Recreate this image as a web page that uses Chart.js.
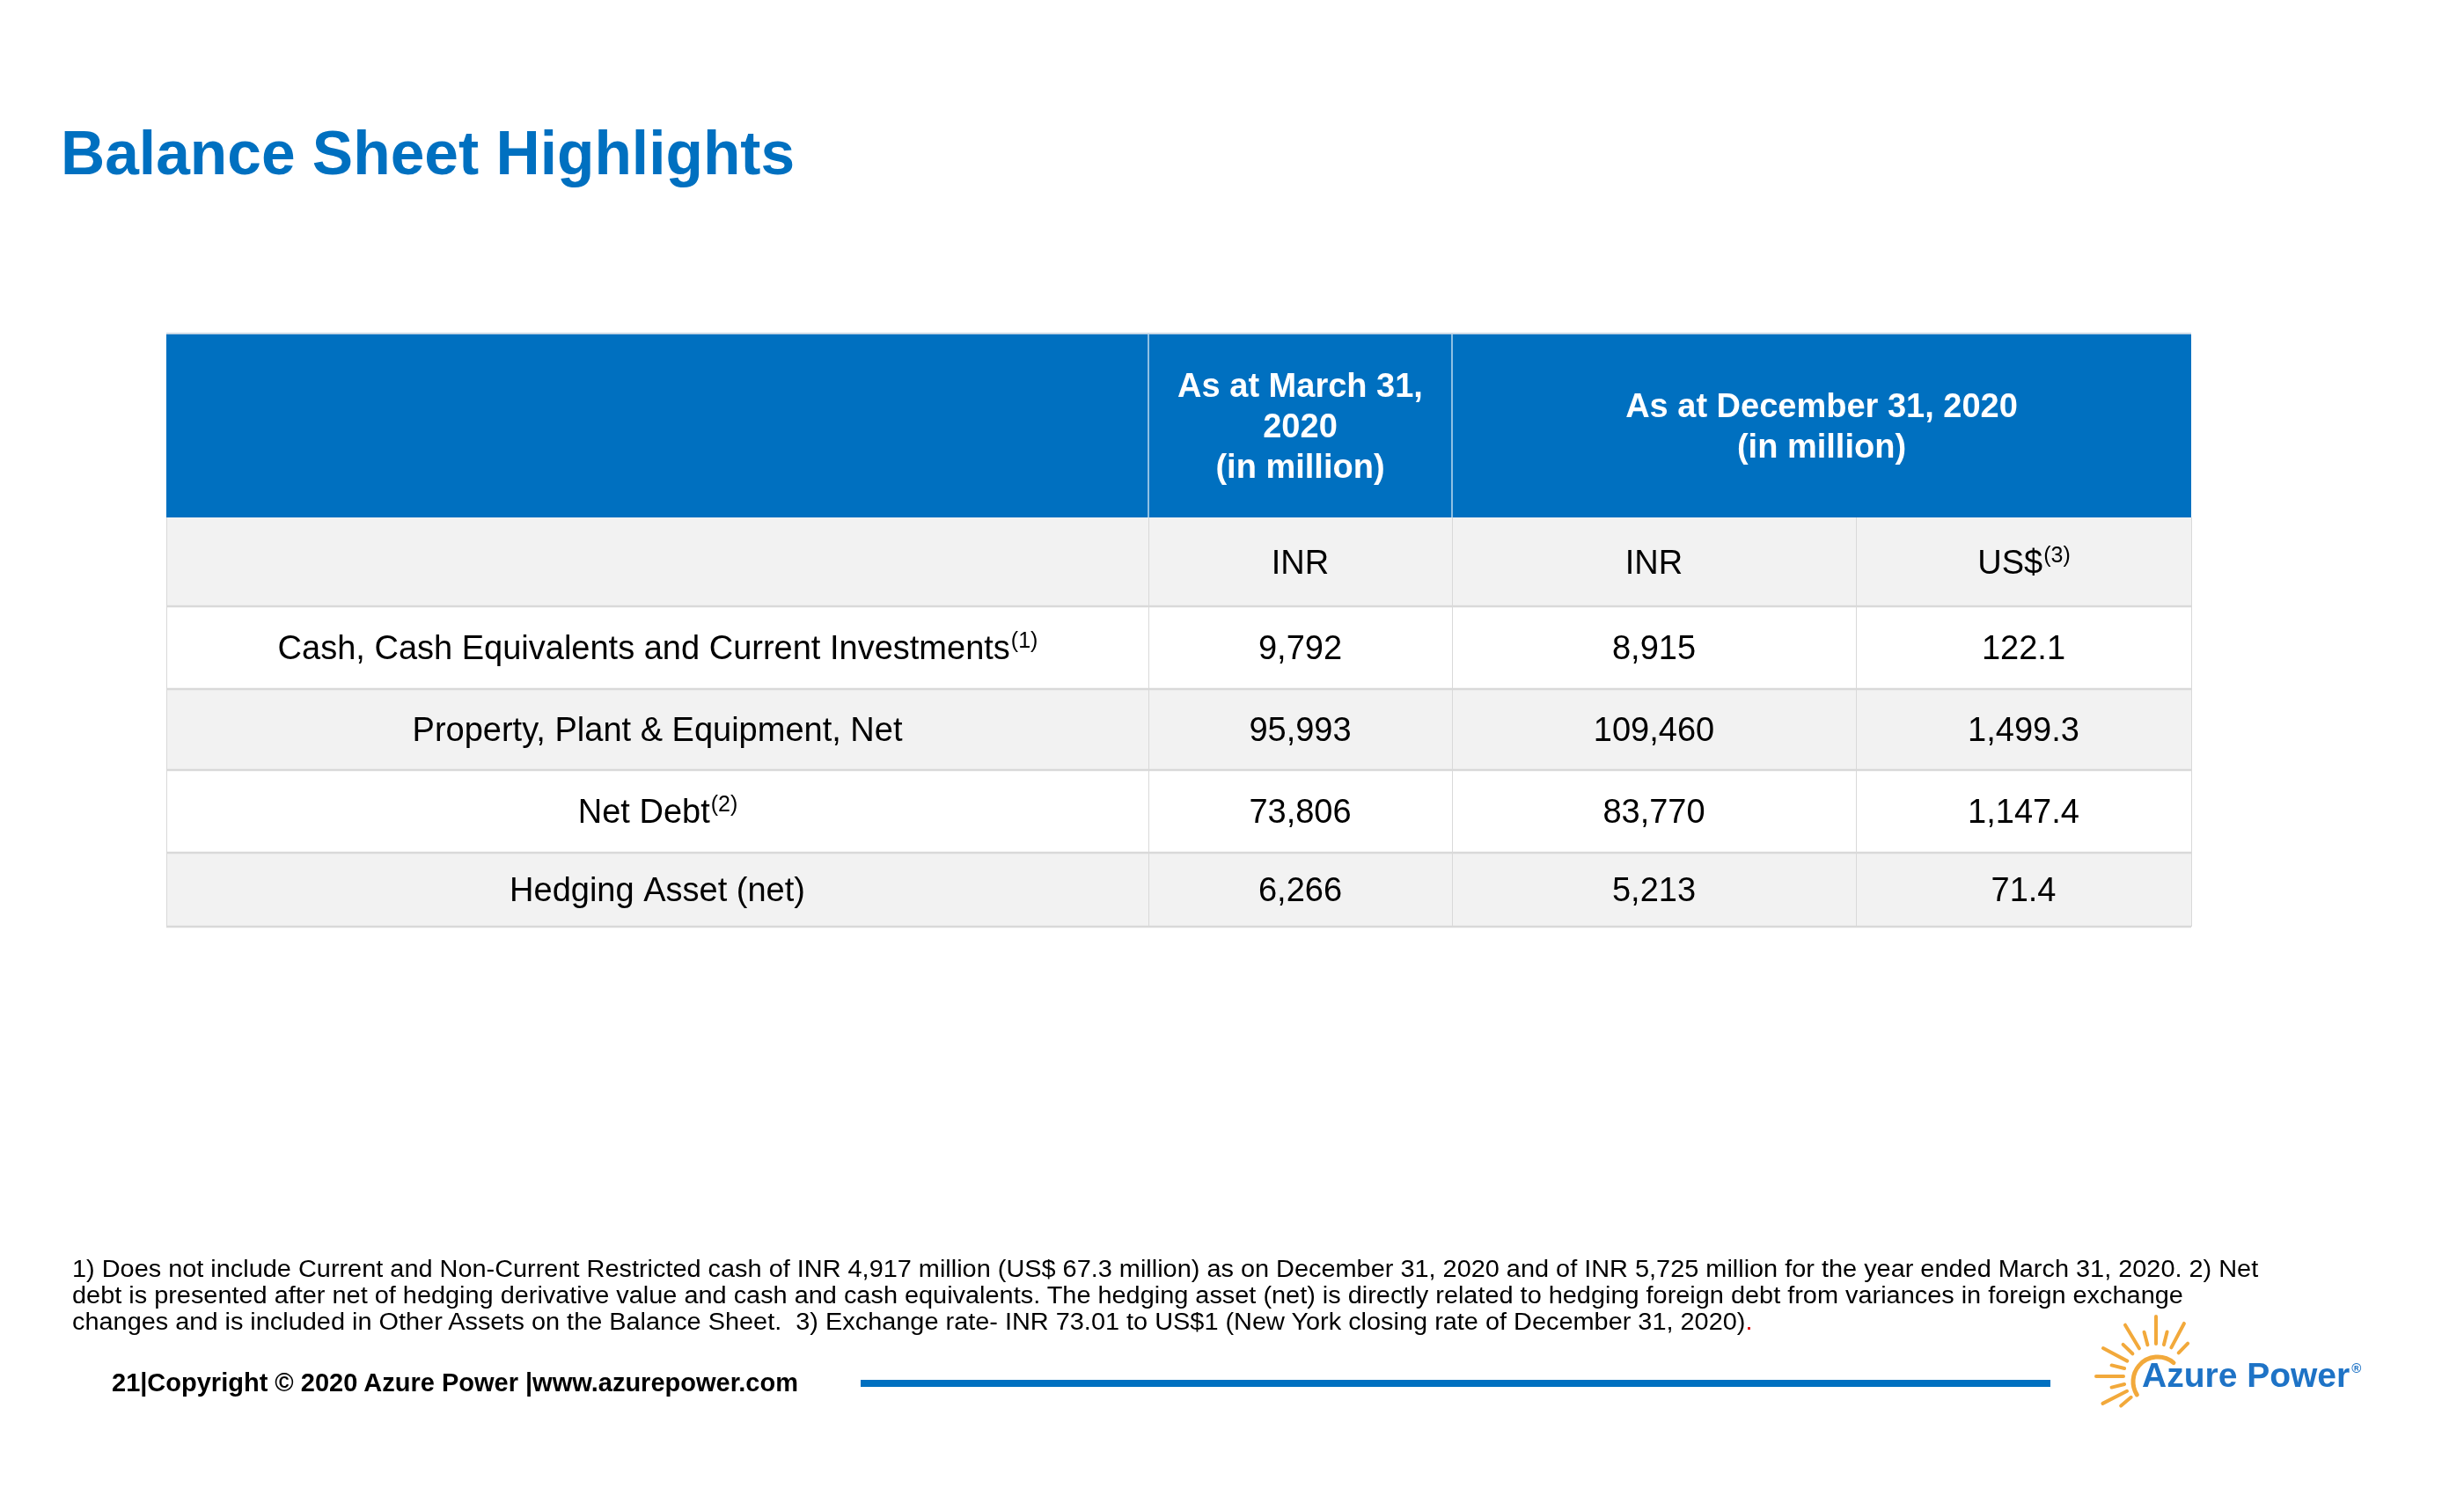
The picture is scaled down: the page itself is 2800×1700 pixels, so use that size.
<!DOCTYPE html>
<html>
<head>
<meta charset="utf-8">
<title>Balance Sheet Highlights</title>
<script src="https://cdn.jsdelivr.net/npm/chart.js@4.4.1/dist/chart.umd.min.js"></script>
<style>
    html, body { margin: 0; padding: 0; background: #ffffff; }
    body { width: 2800px; height: 1700px; position: relative; overflow: hidden; font-family: "Liberation Sans", Arial, sans-serif; color: #000; }
    #sheet { position: absolute; left: 0; top: 0; }
    .title { position: absolute; left: 69px; top: 134px; font-size: 69.5px; line-height: 80px; font-weight: bold; color: #0070C0; white-space: nowrap; }
    .notes { position: absolute; left: 82px; top: 1427px; font-size: 27px; line-height: 30px; white-space: nowrap; transform: scaleX(1.07); transform-origin: left top; }
    .notes .dot { color: #e00000; }
    .footer { position: absolute; left: 127px; top: 1554px; font-size: 29px; line-height: 34px; font-weight: bold; white-space: nowrap; }
    .rule { position: absolute; left: 978px; top: 1568px; width: 1352px; height: 8px; background: #0070C0; }
    .brand { position: absolute; left: 2434px; top: 1541px; font-size: 39px; line-height: 44px; font-weight: bold; color: #1E73C6; white-space: nowrap; }
    .brand sup { font-size: 15px; position: relative; top: -8px; margin-left: 2px; vertical-align: top; }
</style>
</head>
<body>
<canvas id="sheet" width="2800" height="1700" style="width:2800px;height:1700px"></canvas>
<div class="title">Balance Sheet Highlights</div>
<div class="notes">
1) Does not include Current and Non-Current Restricted cash of INR 4,917 million (US$ 67.3 million) as on December 31, 2020 and of INR 5,725 million for the year ended March 31, 2020. 2) Net<br>
debt is presented after net of hedging derivative value and cash and cash equivalents. The hedging asset (net) is directly related to hedging foreign debt from variances in foreign exchange<br>
changes and is included in Other Assets on the Balance Sheet.&nbsp; 3) Exchange rate- INR 73.01 to US$1 (New York closing rate of December 31, 2020)<span class="dot">.</span>
</div>
<div class="footer">21|Copyright © 2020 Azure Power |www.azurepower.com</div>
<div class="rule"></div>
<div class="brand">Azure Power<sup>®</sup></div>
<script>
// Balance sheet figures, in million
const rowLabels = ['Cash, Cash Equivalents and Current Investments', 'Property, Plant & Equipment, Net', 'Net Debt', 'Hedging Asset (net)'];
const rowNotes = ['(1)', '', '(2)', ''];
const periodHeaders = [['As at March 31,', '2020', '(in million)'], ['As at December 31, 2020', '(in million)']];
const currencyHeaders = ['INR', 'INR', 'US$'];
const currencyNotes = ['', '', '(3)'];
const inrMar2020 = [9792, 95993, 73806, 6266];
const inrDec2020 = [8915, 109460, 83770, 5213];
const usdDec2020 = [122.1, 1499.3, 1147.4, 71.4];

// table grid in scale units (1 unit = 1px once laid out)
const COL_W = [1116, 345, 459, 381];
const ROW_H = [208, 101, 94, 92, 94, 84];
const colEdges = COL_W.reduce((a, w) => a.concat(a[a.length - 1] + w), [0]);
const rowEdges = ROW_H.reduce((a, h) => a.concat(a[a.length - 1] + h), [0]);
const tableW = colEdges[colEdges.length - 1];
const tableH = rowEdges[rowEdges.length - 1];
const colMid = i => (colEdges[i] + colEdges[i + 1]) / 2;
const rowMid = i => (rowEdges[i] + rowEdges[i + 1]) / 2;

const COLORS = {
    blue: '#0070C0',
    band: '#F2F2F2',
    white: '#FFFFFF',
    grid: '#D9D9D9',
    headGrid: 'rgba(255, 255, 255, 0.75)',
    text: '#000000',
    sun: '#F2A93B'
};
const FONT = '"Liberation Sans", Arial, sans-serif';
const BODY_PX = 38;
const SUP_PX = 25;

const fmtInr = v => v.toLocaleString('en-US');
const fmtUsd = v => v.toLocaleString('en-US', { minimumFractionDigits: 1, maximumFractionDigits: 1 });

function cellPoints(col) {
    return rowLabels.map((_, r) => ({ x: colMid(col), y: rowMid(r + 2) }));
}

// text + optional superscript, centred on cx
function drawSup(ctx, text, sup, cx, baseline) {
    ctx.font = `${BODY_PX}px ${FONT}`;
    const w1 = ctx.measureText(text).width;
    ctx.font = `${SUP_PX}px ${FONT}`;
    const w2 = sup ? ctx.measureText(sup).width : 0;
    const start = cx - (w1 + w2) / 2;
    ctx.textAlign = 'left';
    ctx.font = `${BODY_PX}px ${FONT}`;
    ctx.fillText(text, start, baseline);
    if (sup) {
        ctx.font = `${SUP_PX}px ${FONT}`;
        ctx.fillText(sup, start + w1 + 1, baseline - 13);
    }
}

const tablePlugin = {
    id: 'tablePlugin',
    beforeDatasetsDraw(chart) {
        const { ctx, scales: { x, y } } = chart;
        const px = v => x.getPixelForValue(v);
        const py = v => y.getPixelForValue(v);
        ctx.save();
        // fills
        const fills = [COLORS.blue, COLORS.band, COLORS.white, COLORS.band, COLORS.white, COLORS.band];
        fills.forEach((c, r) => {
            ctx.fillStyle = c;
            ctx.fillRect(px(0), py(rowEdges[r]), px(tableW) - px(0), py(rowEdges[r + 1]) - py(rowEdges[r]));
        });
        // header verticals (December header spans two columns)
        ctx.strokeStyle = COLORS.headGrid;
        ctx.lineWidth = 1.5;
        [1, 2].forEach(i => {
            ctx.beginPath();
            ctx.moveTo(px(colEdges[i]), py(0));
            ctx.lineTo(px(colEdges[i]), py(rowEdges[1]));
            ctx.stroke();
        });
        // body verticals
        ctx.strokeStyle = COLORS.grid;
        ctx.lineWidth = 1;
        colEdges.forEach(e => {
            const xx = Math.round(px(e)) + 0.5;
            ctx.beginPath();
            ctx.moveTo(xx, py(rowEdges[1]));
            ctx.lineTo(xx, py(tableH));
            ctx.stroke();
        });
        // horizontal rules
        ctx.lineWidth = 2.5;
        rowEdges.slice(2).forEach(e => {
            ctx.beginPath();
            ctx.moveTo(px(0), py(e));
            ctx.lineTo(px(tableW), py(e));
            ctx.stroke();
        });
        ctx.strokeStyle = '#C9D8E6';
        ctx.lineWidth = 2;
        ctx.beginPath();
        ctx.moveTo(px(0), py(0) - 1);
        ctx.lineTo(px(tableW), py(0) - 1);
        ctx.stroke();
        ctx.restore();
    },
    afterDatasetsDraw(chart) {
        const { ctx, scales: { x, y } } = chart;
        const px = v => x.getPixelForValue(v);
        const py = v => y.getPixelForValue(v);
        ctx.save();
        ctx.textBaseline = 'alphabetic';

        // period headers
        ctx.fillStyle = COLORS.white;
        ctx.textAlign = 'center';
        ctx.font = `bold ${BODY_PX}px ${FONT}`;
        const headCx = [px(colMid(1)), (px(colEdges[2]) + px(colEdges[4])) / 2];
        periodHeaders.forEach((lines, i) => {
            const cy = py(rowMid(0));
            lines.forEach((t, k) => {
                ctx.fillText(t, headCx[i], cy + (k - (lines.length - 1) / 2) * 46 + 13);
            });
        });

        // currency row
        ctx.fillStyle = COLORS.text;
        currencyHeaders.forEach((t, i) => {
            drawSup(ctx, t, currencyNotes[i], px(colMid(i + 1)), py(rowMid(1)) + 13);
        });

        // body cells, placed at the dataset points
        chart.data.datasets.forEach((ds, di) => {
            const meta = chart.getDatasetMeta(di);
            meta.data.forEach((pt, r) => {
                drawSup(ctx, ds.cellText[r], ds.cellNotes ? ds.cellNotes[r] : '', pt.x, pt.y + 13);
            });
        });
        ctx.restore();
    },
    afterDraw(chart) {
        // logo sun
        const ctx = chart.ctx;
        const cx = 2450, cy = 1564;
        ctx.save();
        ctx.strokeStyle = COLORS.sun;
        ctx.lineCap = 'round';
        ctx.lineWidth = 4;
        const rays = [[46, 0], [62, 1], [76, 0], [90, 1], [105, 0], [121, 1], [136, 0], [152, 1], [166, 0], [180, 1], [194, 0], [207, 1], [220, 0]];
        rays.forEach(([deg, long]) => {
            const a = deg * Math.PI / 180;
            const r0 = 37, r1 = long ? 68 : 52;
            ctx.beginPath();
            ctx.moveTo(cx + Math.cos(a) * r0, cy - Math.sin(a) * r0);
            ctx.lineTo(cx + Math.cos(a) * r1, cy - Math.sin(a) * r1);
            ctx.stroke();
        });
        ctx.lineWidth = 5;
        ctx.beginPath();
        ctx.arc(cx + 2, cy + 6, 28, -50 * Math.PI / 180, -212 * Math.PI / 180, true);
        ctx.stroke();
        ctx.restore();
    }
};

new Chart(document.getElementById('sheet'), {
    type: 'scatter',
    data: {
        datasets: [
            { label: 'Item', data: cellPoints(0), cellText: rowLabels, cellNotes: rowNotes },
            { label: 'INR Mar 2020', data: cellPoints(1), cellText: inrMar2020.map(fmtInr) },
            { label: 'INR Dec 2020', data: cellPoints(2), cellText: inrDec2020.map(fmtInr) },
            { label: 'US$ Dec 2020', data: cellPoints(3), cellText: usdDec2020.map(fmtUsd) }
        ]
    },
    options: {
        responsive: false,
        animation: false,
        events: [],
        devicePixelRatio: 1,
        layout: { padding: { left: 189, top: 380, right: 310, bottom: 647 } },
        elements: { point: { radius: 0, hoverRadius: 0 } },
        plugins: { legend: { display: false }, tooltip: { enabled: false } },
        scales: {
            x: { type: 'linear', display: false, min: 0, max: tableW },
            y: { type: 'linear', display: false, min: 0, max: tableH, reverse: true }
        }
    },
    plugins: [tablePlugin]
});
</script>
</body>
</html>
